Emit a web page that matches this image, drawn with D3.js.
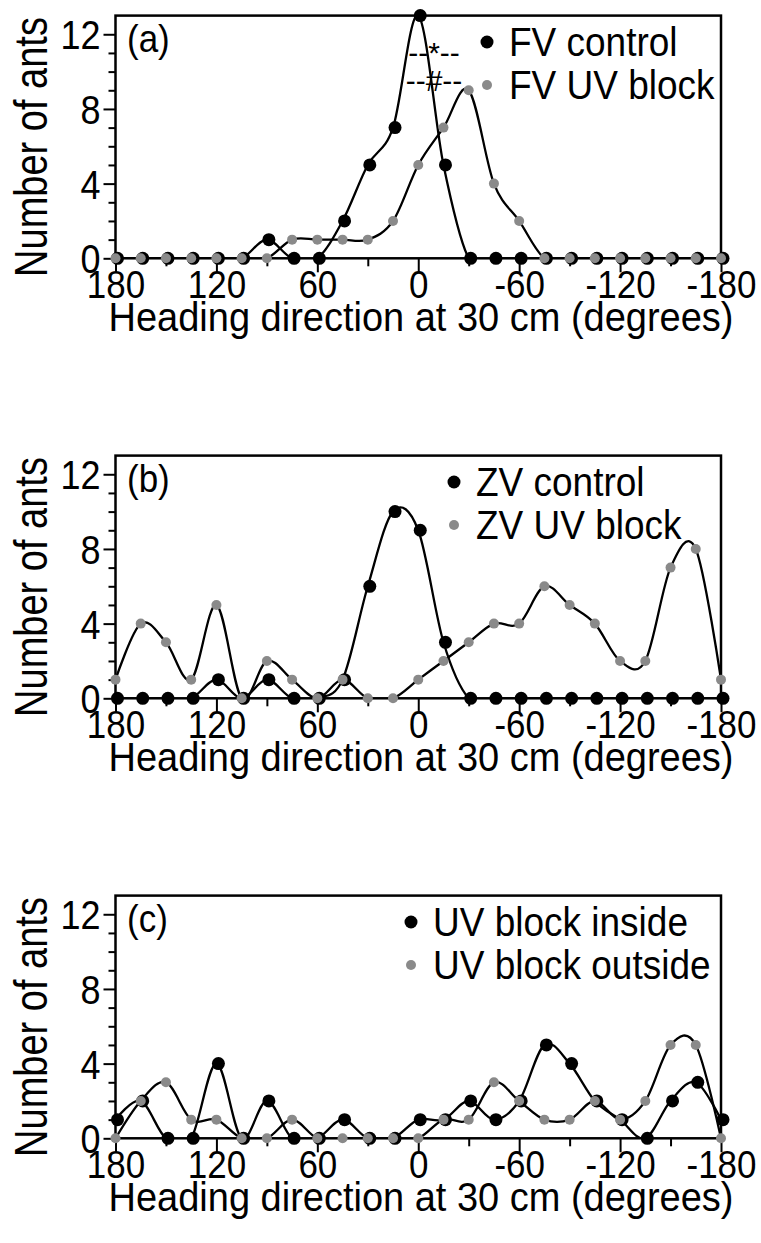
<!DOCTYPE html>
<html>
<head>
<meta charset="utf-8">
<script src="https://cdn.jsdelivr.net/npm/d3@7"></script>
<style>
  body { margin: 0; background: #fff; }
  text { font-family: "Liberation Sans", Arial, Helvetica, sans-serif; fill: #000; }
</style>
</head>
<body>
<svg id="chart" width="761" height="1243"></svg>
<script>
// heading bins, 180 to -180 in 15 degree steps
var headings = d3.range(180, -181, -15);
var xTicks = d3.range(180, -181, -30);
var yTicks = d3.range(0, 13, 1);

// (a) full vector ants
var fvControl = [0,0,0,0,0,0,1,0,0,2,5,7,13,5,0,0,0,0,0,0,0,0,0,0,0];
var fvUvBlock = [0,0,0,0,0,0,0,1,1,1,1,2,5,7,9,4,2,0,0,0,0,0,0,0,0];
// (b) zero vector ants
var zvControl = [0,0,0,0,1,0,1,0,0,1,6,10,9,3,0,0,0,0,0,0,0,0,0,0,0];
var zvUvBlock = [1,4,3,1,5,0,2,1,0,1,0,0,1,2,3,4,4,6,5,4,2,2,7,8,1];
// (c) uv block inside / outside
var uvInside  = [1,2,0,0,4,0,2,0,0,1,0,0,1,1,2,1,2,5,4,2,1,0,2,3,1];
var uvOutside = [0,2,3,1,1,0,0,1,0,0,0,0,0,1,1,3,2,1,1,2,1,2,5,5,0];

var panels = [
  {tag: "(a)", top: 0,   series: [fvControl, fvUvBlock], names: ["FV control", "FV UV block"], legendX: 487},
  {tag: "(b)", top: 440, series: [zvControl, zvUvBlock], names: ["ZV control", "ZV UV block"], legendX: 454},
  {tag: "(c)", top: 880, series: [uvInside, uvOutside], names: ["UV block inside", "UV block outside"], legendX: 411}
];

var colors = ["#000", "#8a8a8a"];
var radius = [6.5, 5];

var svg = d3.select("#chart");

var x = d3.scaleLinear().domain([180, -180]).range([115.5, 721]);
var y = d3.scaleLinear().domain([0, 13]).range([258.3, 15.6]);

var line = d3.line()
    .x(function(d, j) { return x(headings[j]); })
    .y(function(d) { return y(d); })
    .curve(d3.curveCardinal.tension(0));

panels.forEach(function(p, i) {
  var g = svg.append("g").attr("transform", "translate(0," + p.top + ")");

  g.append("clipPath").attr("id", "clip" + i)
    .append("rect")
    .attr("x", x(180))
    .attr("y", y(13))
    .attr("width", x(-180) - x(180))
    .attr("height", y(0) - y(13));

  // x axis
  var gx = g.append("g")
      .attr("transform", "translate(0," + y(0) + ")")
      .call(d3.axisBottom(x).tickValues(xTicks).tickSize(8)
        .tickFormat(function(d) { return d % 60 === 0 ? d : ""; }));
  gx.select(".domain").remove();
  gx.selectAll(".tick line")
      .attr("y2", function(d) { return d % 60 === 0 ? 14 : 8; })
      .attr("stroke-width", 2);
  gx.selectAll(".tick text").filter(function(d) { return d % 60 !== 0; }).remove();
  gx.selectAll(".tick text")
      .attr("y", 0)
      .attr("dy", 0)
      .attr("transform", "translate(0,40) scale(1,1.12)")
      .style("font-size", "35px");

  // y axis
  var gy = g.append("g")
      .attr("transform", "translate(" + x(180) + ",0)")
      .call(d3.axisLeft(y).tickValues(yTicks).tickSize(7)
        .tickFormat(function(d) { return d % 4 === 0 ? d : ""; }));
  gy.select(".domain").remove();
  gy.selectAll(".tick line")
      .attr("x2", function(d) { return d % 4 === 0 ? -12 : -7; })
      .attr("stroke-width", 2);
  gy.selectAll(".tick text").filter(function(d) { return d % 4 !== 0; }).remove();
  gy.selectAll(".tick text")
      .attr("x", 0)
      .attr("dy", "0.36em")
      .attr("transform", "translate(-15,0) scale(1,1.12)")
      .style("font-size", "36px");

  // frame
  g.append("rect")
    .attr("x", x(180))
    .attr("y", y(13))
    .attr("width", x(-180) - x(180))
    .attr("height", y(0) - y(13))
    .attr("fill", "none")
    .attr("stroke", "#000")
    .attr("stroke-width", 2.5);

  // curves
  p.series.forEach(function(s) {
    g.append("path")
      .datum(s)
      .attr("clip-path", "url(#clip" + i + ")")
      .attr("fill", "none")
      .attr("stroke", "#000")
      .attr("stroke-width", 2.3)
      .attr("d", line);
  });

  // markers
  p.series.forEach(function(s, k) {
    g.selectAll(".dot" + k)
      .data(s)
      .enter().append("circle")
      .attr("cx", function(d, j) { return x(headings[j]) + (k === 0 ? 2 : 0); })
      .attr("cy", function(d) { return y(d); })
      .attr("r", radius[k])
      .attr("fill", colors[k]);
  });

  // legend
  p.names.forEach(function(name, k) {
    var ly = 42 + k * 43;
    g.append("circle")
      .attr("cx", p.legendX)
      .attr("cy", ly)
      .attr("r", k === 0 ? 6.5 : 5)
      .attr("fill", colors[k]);
    g.append("text")
      .attr("transform", "translate(" + (p.legendX + 22) + "," + (ly + 14) + ") scale(1,1.08)")
      .style("font-size", "37px")
      .text(name);
  });

  // panel letter
  g.append("text")
    .attr("transform", "translate(127,52) scale(1,1.1)")
    .style("font-size", "35px")
    .text(p.tag);

  // axis titles
  g.append("text")
    .attr("transform", "translate(421,331) scale(1,1.08)")
    .attr("text-anchor", "middle")
    .style("font-size", "38px")
    .text("Heading direction at 30 cm (degrees)");

  g.append("text")
    .attr("transform", "translate(47,147) rotate(-90) scale(1,1.2)")
    .attr("text-anchor", "middle")
    .style("font-size", "38px")
    .text("Number of ants");

  // significance marks in (a)
  if (i === 0) {
    g.append("text")
      .attr("x", 434).attr("y", 63)
      .attr("text-anchor", "middle")
      .style("font-size", "30px")
      .text("--*--");
    g.append("text")
      .attr("x", 434).attr("y", 91)
      .attr("text-anchor", "middle")
      .style("font-size", "30px")
      .text("--#--");
  }
});
</script>
</body>
</html>
